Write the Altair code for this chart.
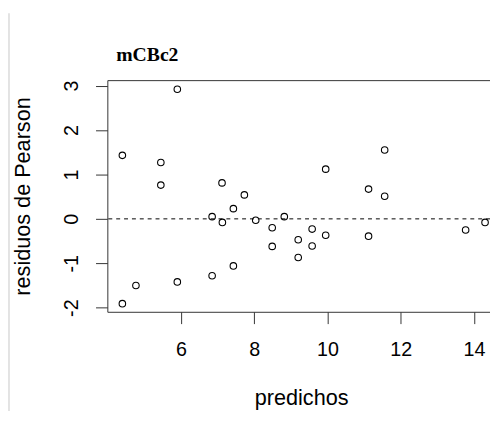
import altair as alt
import pandas as pd

pred = [4.40, 5.45, 5.45, 7.12, 7.73, 7.43, 6.85, 7.13, 8.04, 8.82, 8.49, 8.49,
        9.20, 9.58, 9.58, 9.20, 9.95, 9.95, 11.12, 11.56, 11.56, 11.12, 13.77,
        14.30, 7.43, 6.85, 5.90, 4.77, 4.40, 5.90]
res = [1.43, 1.27, 0.76, 0.81, 0.54, 0.23, 0.05, -0.08, -0.03, 0.05, -0.20,
       -0.62, -0.47, -0.23, -0.61, -0.87, 1.12, -0.37, 0.67, 1.55, 0.51, -0.39,
       -0.25, -0.08, -1.06, -1.28, -1.42, -1.50, -1.91, 2.92]
x_ticks = [6, 8, 10, 12, 14]
y_ticks = [-2, -1, 0, 1, 2, 3]
title_text = "mCBc2"

W = 397
H = 235.5

df = pd.DataFrame({"predichos": pred, "residuos": res})

xscale = alt.Scale(domain=[3.99, 14.65], nice=False, zero=False)
yscale = alt.Scale(domain=[-2.093, 3.124], nice=False, zero=False)

xaxis = alt.Axis(values=x_ticks, title="predichos", grid=False, domain=False,
                 tickSize=12, tickColor="#333", tickWidth=1,
                 labelFont="Liberation Sans", labelFontSize=20, labelColor="black",
                 labelPadding=16,
                 titleFont="Liberation Sans", titleFontSize=22, titleFontWeight="normal",
                 titleColor="black", titleX=197, titleY=94, titleBaseline="alphabetic",
                 titleAlign="center")
yaxis = alt.Axis(values=y_ticks, title="residuos de Pearson", grid=False, domain=False,
                 tickSize=12, tickColor="#333", tickWidth=1,
                 labelFont="Liberation Sans", labelFontSize=20, labelColor="black",
                 labelAngle=270, labelAlign="center", labelBaseline="middle",
                 labelPadding=24,
                 labelExpr="replace(datum.label, '\u2212', '-')",
                 titleFont="Liberation Sans", titleFontSize=22, titleFontWeight="normal",
                 titleColor="black", titleX=-79, titleY=H / 2, titleAngle=270,
                 titleBaseline="alphabetic", titleAlign="center")

points = alt.Chart(df).mark_point(shape="circle", filled=False, color="black",
                                  size=44, strokeWidth=1.1, opacity=1).encode(
    x=alt.X("predichos:Q", scale=xscale, axis=xaxis),
    y=alt.Y("residuos:Q", scale=yscale, axis=yaxis),
)

zero = alt.Chart(pd.DataFrame({"residuos": [0]})).mark_rule(
    color="black", strokeDash=[4, 4], strokeWidth=1).encode(
    y=alt.Y("residuos:Q", scale=yscale, axis=yaxis))

edge = alt.Chart(pd.DataFrame({"a": [0]})).mark_rule(
    color="#dadada", strokeWidth=1.5).encode(
    x=alt.value(-100), y=alt.value(-68), y2=alt.value(345))

title = alt.Chart(pd.DataFrame({"t": [title_text]})).mark_text(
    align="left", baseline="alphabetic", font="Liberation Serif",
    fontSize=20, fontWeight="bold", color="black").encode(
    text="t:N", x=alt.value(9), y=alt.value(-19))

chart = alt.layer(zero, points, edge, title).properties(
    width=W, height=H,
    autosize=alt.AutoSizeParams(type="none"),
    padding={"left": 101, "top": 70, "right": -8, "bottom": 97},
).configure(background="white").configure_view(stroke="#333", strokeWidth=1)

chart.save("out.html", embed_options={"renderer": "svg", "actions": False})
